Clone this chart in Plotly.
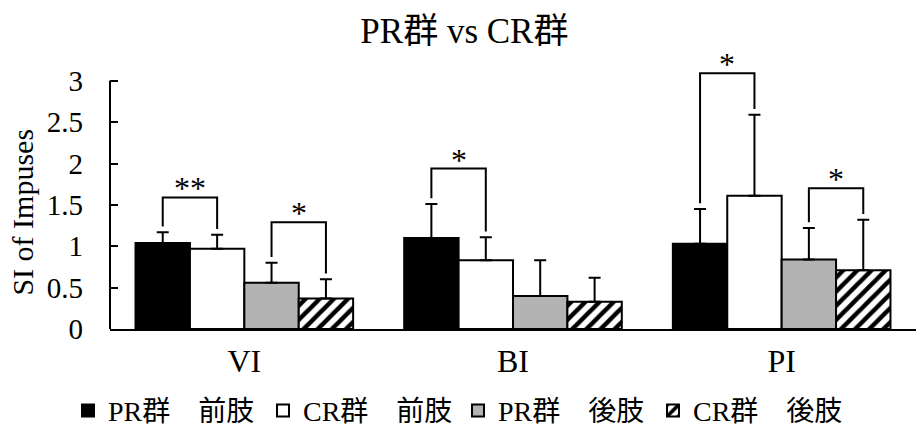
import plotly.graph_objects as go

categories = ["VI", "BI", "PI"]
series_names = ["PR群　前肢", "CR群　前肢", "PR群　後肢", "CR群　後肢"]
means = [
    [1.04, 1.10, 1.03],   # PR 前肢
    [0.97, 0.83, 1.61],   # CR 前肢
    [0.56, 0.40, 0.84],   # PR 後肢
    [0.37, 0.33, 0.71],   # CR 後肢
]
upper = [
    [1.17, 1.51, 1.45],
    [1.14, 1.11, 2.59],
    [0.80, 0.83, 1.22],
    [0.60, 0.62, 1.32],
]
# significance brackets: (category index, series a, series b, bracket height, label)
brackets = [
    (0, 0, 1, 1.59, "**"),
    (0, 2, 3, 1.29, "*"),
    (1, 0, 1, 1.94, "*"),
    (2, 0, 1, 3.09, "*"),
    (2, 2, 3, 1.70, "*"),
]
y_ticks = [0, 0.5, 1, 1.5, 2, 2.5, 3]
y_tick_labels = ["0", "0.5", "1", "1.5", "2", "2.5", "3"]
y_title = "SI of Impuses"

YMAX = 3.3
BARGAP = 0.19
FONT = "Liberation Serif, Times New Roman, Noto Sans CJK JP, serif"

colors = ["#000000", "#ffffff", "#b3b3b3", "#ffffff"]

fig = go.Figure()
for i, name in enumerate(series_names):
    marker = dict(color=colors[i], line=dict(color="black", width=2))
    if i == 3:
        marker["pattern"] = dict(shape="/", fgcolor="black", bgcolor="white",
                                 fgopacity=1, size=10, solidity=0.45,
                                 fillmode="overlay")
    fig.add_trace(go.Bar(
        x=categories, y=means[i], name=name, marker=marker,
        error_y=dict(type="data", symmetric=False,
                     array=[u - m for u, m in zip(upper[i], means[i])],
                     arrayminus=[0] * len(categories),
                     color="black", thickness=2, width=6),
    ))

nser = len(series_names)
bw = (1 - BARGAP) / nser
def xpos(ci, si):
    return ci - (1 - BARGAP) / 2 + bw * (si + 0.5)

shapes = []
annotations = []
for ci, sa, sb, h, lab in brackets:
    xa, xb = xpos(ci, sa), xpos(ci, sb)
    ya = upper[sa][ci] + 0.07
    yb = upper[sb][ci] + 0.07
    shapes.append(dict(type="path", xref="x", yref="y",
                       path=f"M {xa},{ya} L {xa},{h} L {xb},{h} L {xb},{yb}",
                       line=dict(color="black", width=2)))
    annotations.append(dict(x=(xa + xb) / 2, y=h, xref="x", yref="y", text=lab,
                            showarrow=False, yanchor="bottom", yshift=-11,
                            font=dict(family=FONT, size=32, color="black")))

# y axis title
annotations.append(dict(x=-0.108, xref="paper", y=0.43, yref="paper",
                        text=y_title, textangle=-90, showarrow=False,
                        xanchor="center", yanchor="middle",
                        font=dict(family=FONT, size=30, color="black")))

# y axis line from 0 to 3
shapes.append(dict(type="line", xref="paper", yref="paper", x0=0, x1=0,
                   y0=0, y1=y_ticks[-1] / YMAX, line=dict(color="black", width=2)))

fig.update_layout(
    width=916, height=437,
    margin=dict(l=110, r=0, t=56, b=108, autoexpand=False),
    paper_bgcolor="white", plot_bgcolor="white",
    barmode="group", bargap=BARGAP, bargroupgap=0,
    font=dict(family=FONT, color="black", size=29),
    title=dict(text="PR群 vs CR群", x=0.507, xanchor="center", xref="container",
               y=0.93, yanchor="middle", yref="container",
               font=dict(family=FONT, size=35, color="black")),
    xaxis=dict(showline=True, linecolor="black", linewidth=2, ticks="",
               showgrid=False, tickfont=dict(size=32), ticklabelstandoff=3,
               automargin=False),
    yaxis=dict(range=[0, YMAX], showline=False, showgrid=False, zeroline=False,
               tickvals=y_ticks, ticktext=y_tick_labels,
               ticks="inside", ticklen=8, tickwidth=2, tickcolor="black",
               ticklabelstandoff=26, tickfont=dict(size=29), automargin=False),
    legend=dict(orientation="h", xref="container", yref="container",
                x=0.5, xanchor="center", y=0.06, yanchor="middle",
                font=dict(size=28), itemwidth=30, traceorder="normal",
                entrywidth=150, entrywidthmode="pixels",
                bgcolor="rgba(0,0,0,0)"),
    shapes=shapes, annotations=annotations,
    showlegend=True,
)

fig.write_html("out.html")
